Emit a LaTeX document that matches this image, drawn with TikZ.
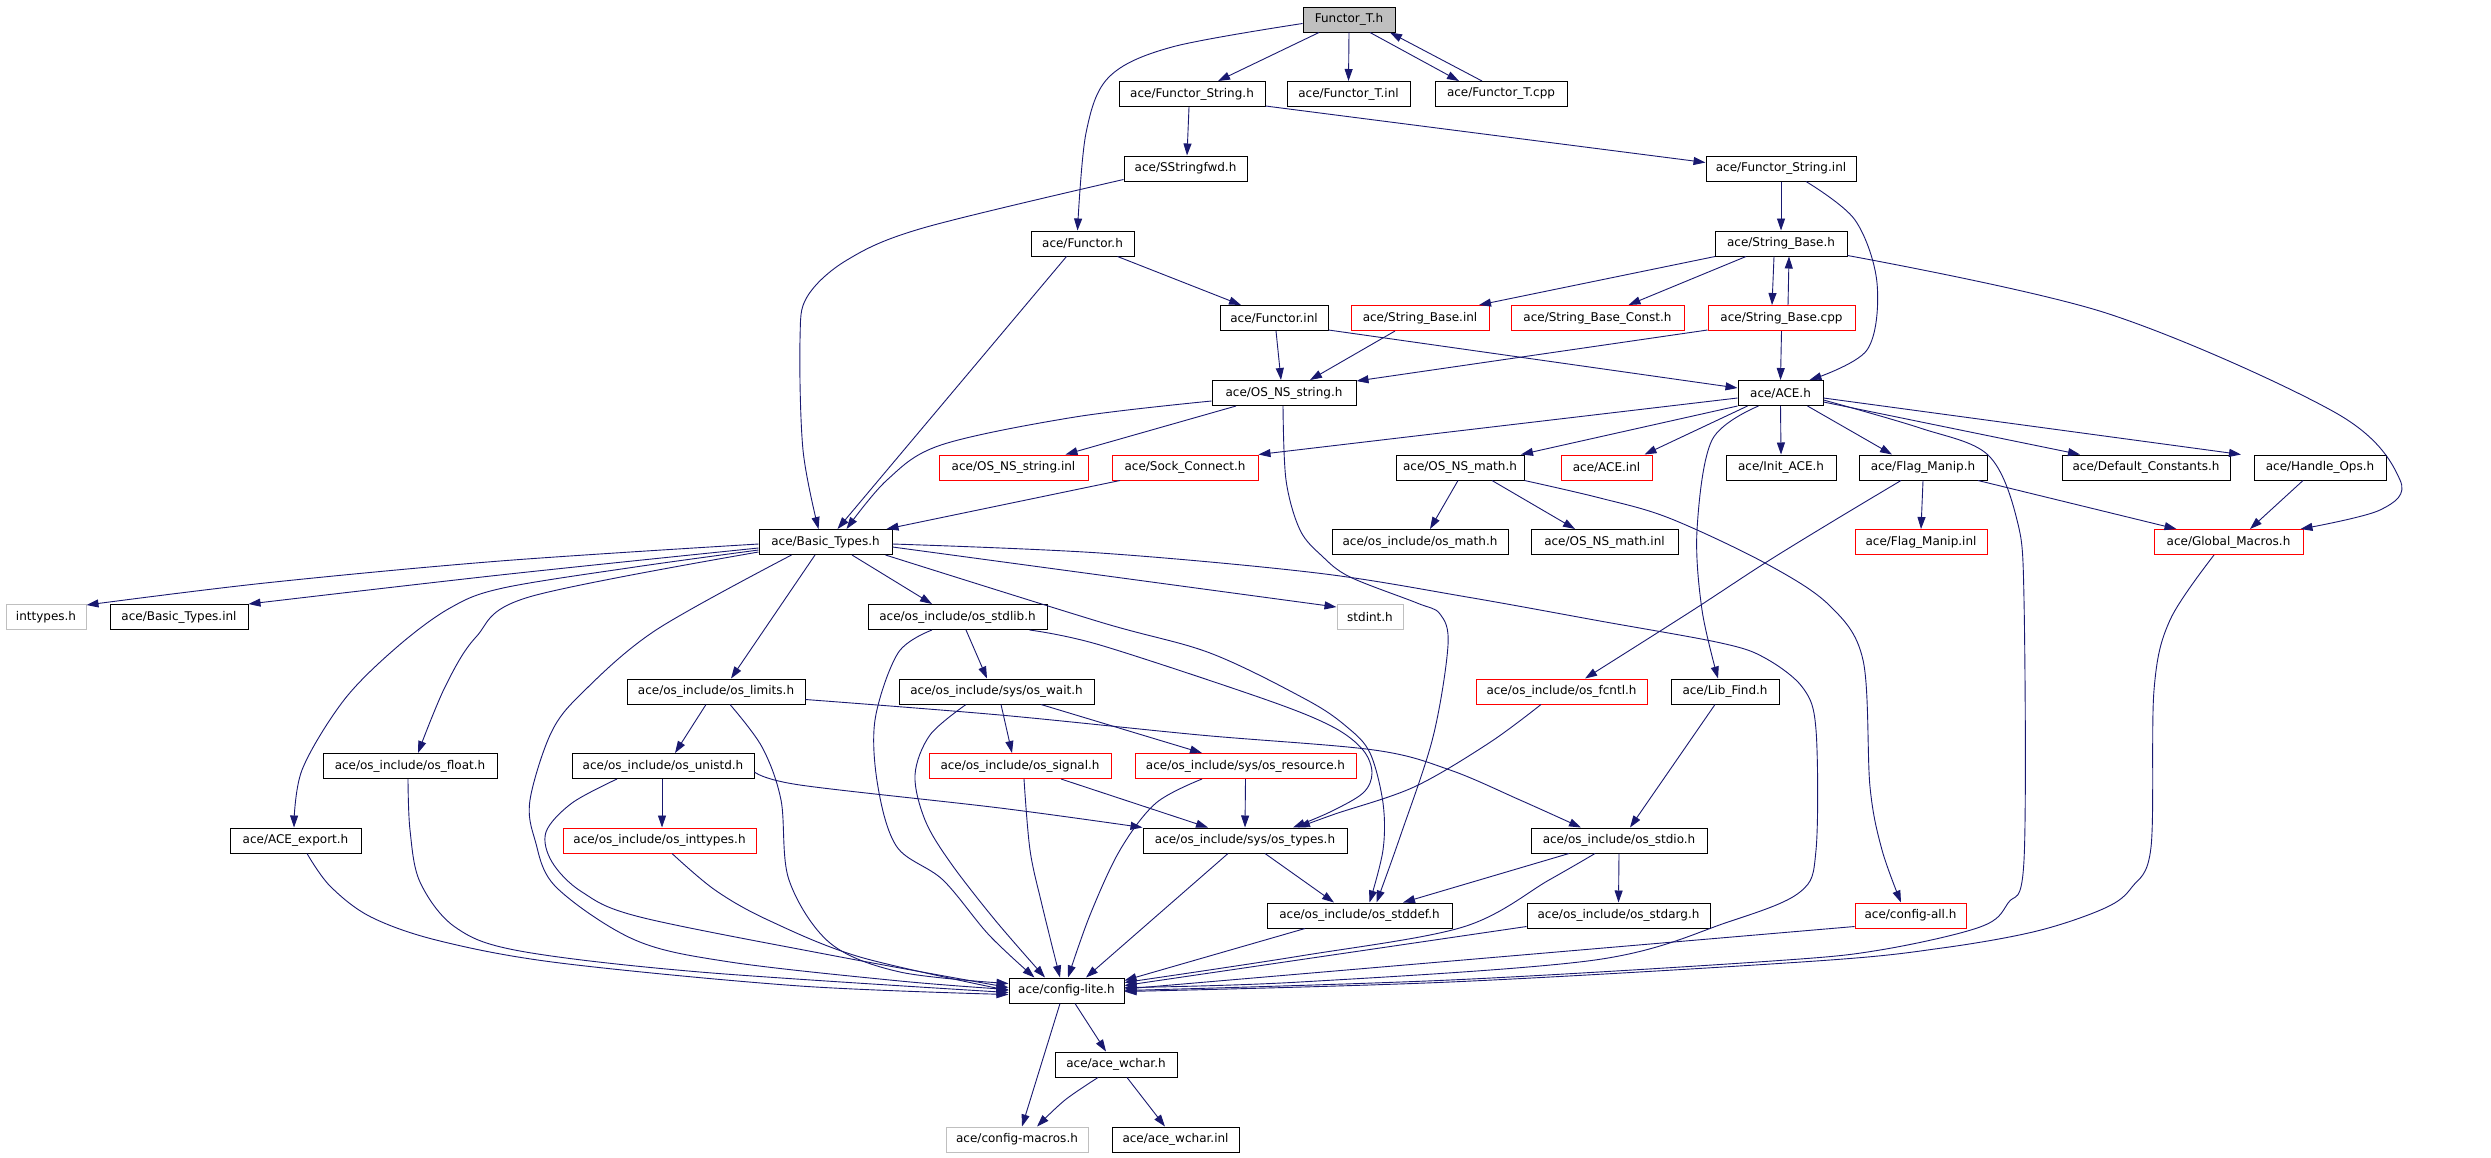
\documentclass[tikz,border=0pt]{standalone}
\usepackage{fontspec}
\setmainfont{DejaVu Sans}
\usetikzlibrary{arrows.meta,calc}
\definecolor{edgeblue}{HTML}{191970}
\definecolor{lgray}{HTML}{BFBFBF}
\begin{document}
\begin{tikzpicture}[x=1pt,y=-1pt,
 box/.style={draw=black, fill=white, line width=1pt, minimum height=25pt, inner sep=0pt, font=\fontsize{12}{13}\selectfont, text=black},
 redbox/.style={box, draw=red},
 graybox/.style={box, draw=lgray},
 edge/.style={draw=edgeblue, line width=0.9pt, -{Triangle[length=12pt,width=8pt]}},
 sm/.style={smooth, tension=0.55}]
\useasboundingbox[fill=white] (0,0) rectangle (2491,1157);
% nodes
\node[box, fill=lgray, minimum width=92pt] (FT) at (1349,19.5) {Functor\_T.h};
\node[box, minimum width=146pt] (FSh) at (1192,94) {ace/Functor\_String.h};
\node[box, minimum width=123pt] (FTinl) at (1348.5,94) {ace/Functor\_T.inl};
\node[box, minimum width=132pt] (FTcpp) at (1501,94) {ace/Functor\_T.cpp};
\node[box, minimum width=123pt] (SSf) at (1185.5,168.5) {ace/SStringfwd.h};
\node[box, minimum width=150pt] (FSinl) at (1781,168.5) {ace/Functor\_String.inl};
\node[box, minimum width=103pt] (Fh) at (1082.5,243.5) {ace/Functor.h};
\node[box, minimum width=132pt] (SBh) at (1781,243.5) {ace/String\_Base.h};
\node[box, minimum width=108pt] (Finl) at (1274,318) {ace/Functor.inl};
\node[redbox, minimum width=138pt] (SBinl) at (1420,318) {ace/String\_Base.inl};
\node[redbox, minimum width=173pt] (SBC) at (1597.5,318) {ace/String\_Base\_Const.h};
\node[redbox, minimum width=147pt] (SBcpp) at (1781.5,318) {ace/String\_Base.cpp};
\node[box, minimum width=144pt] (OSs) at (1284,393) {ace/OS\_NS\_string.h};
\node[box, minimum width=85pt] (ACE) at (1780.5,393) {ace/ACE.h};
\node[redbox, minimum width=149pt] (OSsinl) at (1013.5,467.5) {ace/OS\_NS\_string.inl};
\node[redbox, minimum width=146pt] (Sock) at (1185,467.5) {ace/Sock\_Connect.h};
\node[box, minimum width=128pt] (OSm) at (1460,467.5) {ace/OS\_NS\_math.h};
\node[redbox, minimum width=91pt] (ACEinl) at (1606.5,467.5) {ace/ACE.inl};
\node[box, minimum width=110pt] (Init) at (1781,467.5) {ace/Init\_ACE.h};
\node[box, minimum width=128pt] (FM) at (1923,467.5) {ace/Flag\_Manip.h};
\node[box, minimum width=168pt] (DC) at (2146,467.5) {ace/Default\_Constants.h};
\node[box, minimum width=132pt] (HO) at (2320,467.5) {ace/Handle\_Ops.h};
\node[box, minimum width=133pt] (BT) at (825.5,542) {ace/Basic\_Types.h};
\node[box, minimum width=176pt] (osm) at (1420,542) {ace/os\_include/os\_math.h};
\node[box, minimum width=147pt] (OSminl) at (1604.5,542) {ace/OS\_NS\_math.inl};
\node[redbox, minimum width=132pt] (FMinl) at (1921,542) {ace/Flag\_Manip.inl};
\node[redbox, minimum width=149pt] (GM) at (2228.5,542) {ace/Global\_Macros.h};
\node[graybox, minimum width=80pt] (inttypes) at (46,617) {inttypes.h};
\node[box, minimum width=138pt] (BTinl) at (179,617) {ace/Basic\_Types.inl};
\node[box, minimum width=179pt] (stdlib) at (957.5,617) {ace/os\_include/os\_stdlib.h};
\node[graybox, minimum width=66pt] (stdint) at (1370,617) {stdint.h};
\node[box, minimum width=178pt] (limits) at (716,691.5) {ace/os\_include/os\_limits.h};
\node[box, minimum width=195pt] (wait) at (996.5,691.5) {ace/os\_include/sys/os\_wait.h};
\node[redbox, minimum width=171pt] (fcntl) at (1561.5,691.5) {ace/os\_include/os\_fcntl.h};
\node[box, minimum width=108pt] (LF) at (1725,691.5) {ace/Lib\_Find.h};
\node[box, minimum width=174pt] (float) at (410,766) {ace/os\_include/os\_float.h};
\node[box, minimum width=182pt] (unistd) at (663,766) {ace/os\_include/os\_unistd.h};
\node[redbox, minimum width=182pt] (signal) at (1020,766) {ace/os\_include/os\_signal.h};
\node[redbox, minimum width=221pt] (resource) at (1245.5,766) {ace/os\_include/sys/os\_resource.h};
\node[box, minimum width=131pt] (export) at (295.5,840.5) {ace/ACE\_export.h};
\node[redbox, minimum width=193pt] (inttypesh) at (659.5,840.5) {ace/os\_include/os\_inttypes.h};
\node[box, minimum width=204pt] (types) at (1245,840.5) {ace/os\_include/sys/os\_types.h};
\node[box, minimum width=176pt] (stdio) at (1619,840.5) {ace/os\_include/os\_stdio.h};
\node[box, minimum width=185pt] (stddef) at (1359.5,915.5) {ace/os\_include/os\_stddef.h};
\node[box, minimum width=183pt] (stdarg) at (1618.5,915.5) {ace/os\_include/os\_stdarg.h};
\node[redbox, minimum width=111pt] (cfgall) at (1910.5,915.5) {ace/config-all.h};
\node[box, minimum width=115pt] (cfglite) at (1066.5,990.5) {ace/config-lite.h};
\node[box, minimum width=122pt] (wchar) at (1116,1064.5) {ace/ace\_wchar.h};
\node[graybox, minimum width=142pt] (macros) at (1017,1139.5) {ace/config-macros.h};
\node[box, minimum width=127pt] (wcharinl) at (1175.5,1139.5) {ace/ace\_wchar.inl};
% edges
\draw[edge] ($(FT.south)+(-30,0)$) -- ($(FSh.north)+(26,0)$);
\draw[edge] (FT.south) -- (FTinl.north);
\draw[edge] ($(FT.south)+(21,0)$) -- ($(FTcpp.north)+(-42,0)$);
\draw[edge] ($(FTcpp.north)+(-19,0)$) -- ($(FT.south)+(41,0)$);
\draw[edge] plot[sm] coordinates {($(FT.west)+(0,4)$) (1172,47) (1109,77) (1086,133) ($(Fh.north)+(-5,0)$)};
\draw[edge] ($(FSh.south)+(-3,0)$) -- ($(SSf.north)+(1.5,0)$);
\draw[edge] ($(FSh.east)+(0,12)$) -- ($(FSinl.west)+(0,-6)$);
\draw[edge] plot[sm] coordinates {($(SSf.west)+(0,11)$) (923,228) (847,260) (807,297) (800,340) (803,450) ($(BT.north)+(-7,0)$)};
\draw[edge] (FSinl.south) -- (SBh.north);
\draw[edge] plot[sm] coordinates {($(FSinl.south)+(25,0)$) (1855,220) (1877,283) (1867,350) ($(ACE.north)+(29,0)$)};
\draw[edge] ($(Fh.south)+(35,0)$) -- ($(Finl.north)+(-33,0)$);
\draw[edge] ($(Fh.south)+(-16,0)$) -- ($(BT.north)+(12,0)$);
\draw[edge] ($(SBh.south)+(-66,0)$) -- ($(SBinl.north)+(59,0)$);
\draw[edge] ($(SBh.south)+(-35,0)$) -- ($(SBC.north)+(31,0)$);
\draw[edge] ($(SBh.south)+(-7,0)$) -- ($(SBcpp.north)+(-9.5,0)$);
\draw[edge] ($(SBcpp.north)+(6.5,0)$) -- ($(SBh.south)+(8,0)$);
\draw[edge] plot[sm] coordinates {($(SBh.east)+(0,12)$) (2106,313) (2336,413) (2400,480) (2380,510) ($(GM.north)+(72,0)$)};
\draw[edge] ($(Finl.south)+(2,0)$) -- ($(OSs.north)+(-3,0)$);
\draw[edge] ($(Finl.east)+(0,12)$) -- ($(ACE.west)+(0,-5)$);
\draw[edge] ($(SBinl.south)+(-25,0)$) -- ($(OSs.north)+(26,0)$);
\draw[edge] ($(SBcpp.west)+(0,12)$) -- ($(OSs.east)+(0,-12)$);
\draw[edge] (SBcpp.south) -- (ACE.north);
\draw[edge] ($(OSs.south)+(-48,0)$) -- ($(OSsinl.north)+(52,0)$);
\draw[edge] plot[sm] coordinates {($(OSs.west)+(0,8)$) (1075,417) (941,445) (887,480) ($(BT.north)+(21,0)$)};
\draw[edge] plot[sm] coordinates {($(OSs.south)+(-1,0)$) (1286,480) (1300,530) (1322,556) (1350,577) (1417,603) (1440,614) (1448,645) (1433,737) (1400,837) ($(stddef.north)+(17,0)$)};
\draw[edge] ($(Sock.south)+(-65,0)$) -- ($(BT.north)+(61,0)$);
\draw[edge] ($(ACE.west)+(0,5)$) -- (Sock.north east);
\draw[edge] (ACE.south west) -- ($(OSm.north)+(61,0)$);
\draw[edge] ($(ACE.south)+(-33,0)$) -- ($(ACEinl.north)+(38,0)$);
\draw[edge] plot[sm] coordinates {($(ACE.south)+(-22,0)$) (1712,440) (1697,530) (1702,610) ($(LF.north)+(-7,0)$)};
\draw[edge] (ACE.south) -- (Init.north);
\draw[edge] ($(ACE.south)+(27,0)$) -- ($(FM.north)+(-31,0)$);
\draw[edge] ($(ACE.east)+(0,9)$) -- ($(DC.north)+(-66,0)$);
\draw[edge] ($(ACE.east)+(0,5)$) -- ($(HO.north)+(-79,0)$);
\draw[edge] plot[sm] coordinates {($(ACE.east)+(0,7)$) (1920,428) (1988,455) (2017,520) (2024,600) (2024,860) (2008,903) (1980,927) (1880,950) (1772,961) (1450,980) ($(cfglite.east)+(0,0)$)};
\draw[edge] ($(OSm.south)+(-2,0)$) -- ($(osm.north)+(10,0)$);
\draw[edge] ($(OSm.south)+(32,0)$) -- ($(OSminl.north)+(-29.5,0)$);
\draw[edge] plot[sm] coordinates {(OSm.south east) (1600,498) (1669,518) (1765,563) (1829,605) (1863,660) (1870,787) (1882,850) ($(cfgall.north)+(-9.5,0)$)};
\draw[edge] (FM.south) -- (FMinl.north);
\draw[edge] ($(FM.south)+(55,0)$) -- ($(GM.north)+(-52,0)$);
\draw[edge] plot[sm] coordinates {($(FM.south)+(-22,0)$) (1835,520) (1765,563) (1690,612) ($(fcntl.north)+(23.5,0)$)};
\draw[edge] ($(HO.south)+(-17,0)$) -- ($(GM.north)+(21.5,0)$);
\draw[edge] plot[sm] coordinates {($(GM.south)+(-14.5,0)$) (2170,620) (2154,690) (2151,847) (2132,887) (2105,908) (2037,931) (1942,948) (1816,961) (1450,982) ($(cfglite.east)+(0,1)$)};
\draw[edge] plot[sm] coordinates {($(BT.west)+(0,2)$) (500,561) (265,583) ($(inttypes.east)+(0,-12)$)};
\draw[edge] plot[sm] coordinates {($(BT.west)+(0,6)$) (500,575) (BTinl.north east)};
\draw[edge] plot[sm] coordinates {($(BT.west)+(0,8)$) (635,567) (503,588) (450,608) (397,647) (344,700) (302,770) ($(export.north)+(-1.5,0)$)};
\draw[edge] plot[sm] coordinates {($(BT.west)+(0,10)$) (529,597) (476,637) (445,687) ($(float.north)+(8,0)$)};
\draw[edge] plot[sm] coordinates {($(BT.south)+(-34,0)$) (656,630) (582,693) (551,733) (530,800) (535,840) (556,887) (635,940) (730,962) (900,981) ($(cfglite.west)+(0,-1)$)};
\draw[edge] ($(BT.south)+(-10.5,0)$) -- ($(limits.north)+(15,0)$);
\draw[edge] ($(BT.south)+(26.5,0)$) -- ($(stdlib.north)+(-25.5,0)$);
\draw[edge] ($(BT.east)+(0,5)$) -- ($(stdint.west)+(0,-10)$);
\draw[edge] plot[sm] coordinates {($(BT.south)+(60,0)$) (1100,622) (1210,653) (1307,700) (1347,727) (1370,753) (1383,803) (1383,850) ($(stddef.north)+(10,0)$)};
\draw[edge] plot[sm] coordinates {($(BT.east)+(0,2)$) (1100,553) (1317,573) (1467,597) (1600,621) (1721,643) (1765,658) (1803,688) (1816,730) (1816,850) (1800,892) (1728,922) (1595,960) (1300,982) ($(cfglite.east)+(0,-3)$)};
\draw[edge] ($(stdlib.south)+(8.5,0)$) -- ($(wait.north)+(-9.5,0)$);
\draw[edge] plot[sm] coordinates {($(stdlib.south)+(72,0)$) (1100,645) (1267,700) (1333,727) (1363,750) (1372,773) (1363,793) (1330,812) ($(types.north)+(48,0)$)};
\draw[edge] plot[sm] coordinates {($(stdlib.south)+(-25.5,0)$) (898,653) (875,720) (878,787) (897,847) (943,880) (989,935) ($(cfglite.north)+(-32,0)$)};
\draw[edge] ($(wait.south)+(4.5,0)$) -- ($(signal.north)+(-8,0)$);
\draw[edge] ($(wait.south)+(44.5,0)$) -- ($(resource.north)+(-43.5,0)$);
\draw[edge] plot[sm] coordinates {($(wait.south)+(-30.5,0)$) (930,735) (915,775) (925,820) (950,862) (995,920) ($(cfglite.north)+(-21.5,0)$)};
\draw[edge] ($(signal.south)+(41,0)$) -- ($(types.north)+(-37,0)$);
\draw[edge] plot[sm] coordinates {($(signal.south)+(4,0)$) (1030,850) (1042,905) ($(cfglite.north)+(-6.5,0)$)};
\draw[edge] (resource.south) -- (types.north);
\draw[edge] plot[sm] coordinates {($(resource.south)+(-43.5,0)$) (1156,803) (1120,850) (1090,915) ($(cfglite.north)+(1.5,0)$)};
\draw[edge] ($(types.south)+(20,0)$) -- ($(stddef.north)+(-25.5,0)$);
\draw[edge] ($(types.south)+(-17,0)$) -- ($(cfglite.north)+(19.5,0)$);
\draw[edge] plot[sm] coordinates {($(fcntl.south)+(-20.5,0)$) (1489,743) (1414,787) (1335,814) ($(types.north)+(53,0)$)};
\draw[edge] ($(LF.south)+(-10,0)$) -- ($(stdio.north)+(11,0)$);
\draw[edge] plot[sm] coordinates {($(limits.east)+(0,8)$) (1000,715) (1200,735) (1374,750) (1450,770) (1520,800) ($(stdio.north)+(-38,0)$)};
\draw[edge] ($(limits.south)+(-10,0)$) -- ($(unistd.north)+(12,0)$);
\draw[edge] plot[sm] coordinates {($(limits.south)+(14,0)$) (762,747) (781,800) (789,880) (830,943) (900,972) ($(cfglite.west)+(0,-7)$)};
\draw[edge] ($(unistd.south)+(-1,0)$) -- ($(inttypesh.north)+(2.5,0)$);
\draw[edge] plot[sm] coordinates {($(unistd.east)+(0,6)$) (800,785) (1000,808) (types.north west)};
\draw[edge] plot[sm] coordinates {($(unistd.south)+(-46,0)$) (572,803) (546,832) (552,862) (582,892) (640,917) (830,955) ($(cfglite.west)+(0,-3)$)};
\draw[edge] plot[sm] coordinates {($(inttypesh.south)+(12.5,0)$) (715,890) (768,920) (860,957) ($(cfglite.west)+(0,0)$)};
\draw[edge] plot[sm] coordinates {($(float.south)+(-2,0)$) (410,830) (420,882) (455,927) (520,951) (700,972) ($(cfglite.west)+(0,2)$)};
\draw[edge] plot[sm] coordinates {($(export.south)+(11.5,0)$) (330,886) (371,917) (440,941) (560,963) (800,986) ($(cfglite.west)+(0,4)$)};
\draw[edge] ($(stddef.south)+(-54.5,0)$) -- ($(cfglite.east)+(0,-10)$);
\draw[edge] ($(stdio.south)+(-50,0)$) -- ($(stddef.north)+(43.5,0)$);
\draw[edge] (stdio.south) -- (stdarg.north);
\draw[edge] plot[sm] coordinates {($(stdio.south)+(-24,0)$) (1549,880) (1463,927) (1300,956) ($(cfglite.east)+(0,-8)$)};
\draw[edge] ($(stdarg.west)+(0,11)$) -- ($(cfglite.east)+(0,-5)$);
\draw[edge] ($(cfgall.west)+(0,11)$) -- ($(cfglite.east)+(0,-1.5)$);
\draw[edge] ($(cfglite.south)+(-6.5,0)$) -- ($(macros.north)+(5,0)$);
\draw[edge] ($(cfglite.south)+(8.5,0)$) -- ($(wchar.north)+(-10,0)$);
\draw[edge] plot[sm] coordinates {($(wchar.south)+(-18,0)$) (1065,1100) ($(macros.north)+(20,0)$)};
\draw[edge] ($(wchar.south)+(11,0)$) -- ($(wcharinl.north)+(-10.5,0)$);
\end{tikzpicture}
\end{document}
